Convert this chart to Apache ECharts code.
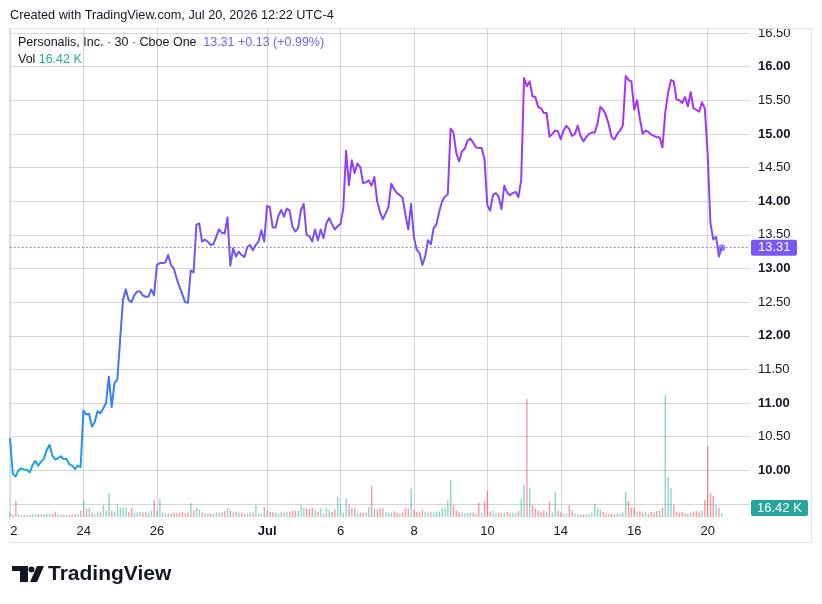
<!DOCTYPE html>
<html>
<head>
<meta charset="utf-8">
<title>Personalis, Inc. · 30 · Cboe One</title>
<script src="https://cdn.jsdelivr.net/npm/echarts@6/dist/echarts.min.js"></script>
<style>
  html, body { margin: 0; padding: 0; background: #fff; }
  #chart { width: 822px; height: 604px; }
</style>
</head>
<body>
<div id="chart"></div>
<script>
// sessions on the chart, 30 minute bars
const days = ['Jun 22', 'Jun 23', 'Jun 24', 'Jun 25', 'Jun 26', 'Jun 29', 'Jun 30', 'Jul 1', 'Jul 2',
  'Jul 6', 'Jul 7', 'Jul 8', 'Jul 9', 'Jul 10', 'Jul 13', 'Jul 14', 'Jul 15', 'Jul 16', 'Jul 17', 'Jul 20'];
const barTimes = ['09:30', '10:00', '10:30', '11:00', '11:30', '12:00', '12:30', '13:00', '13:30',
  '14:00', '14:30', '15:00', '15:30'];

// time scale labels
const tickDays = ['Jun 22', 'Jun 24', 'Jun 26', 'Jul 1', 'Jul 6', 'Jul 8', 'Jul 10', 'Jul 14', 'Jul 16', 'Jul 20'];
const tickText = ['22', '24', '26', 'Jul', '6', '8', '10', '14', '16', '20'];

// close of each bar, one line per session
const closes = [
  10.48, 9.95, 9.91, 10.00, 10.03, 10.01, 10.01, 9.97, 10.08, 10.14, 10.07, 10.13, 10.17,
  10.30, 10.38, 10.22, 10.16, 10.18, 10.21, 10.17, 10.17, 10.09, 10.07, 10.02, 10.07, 10.05,
  10.89, 10.83, 10.84, 10.65, 10.72, 10.88, 10.85, 10.92, 11.00, 11.39, 10.94, 11.30, 11.35,
  11.95, 12.53, 12.69, 12.53, 12.50, 12.60, 12.66, 12.66, 12.60, 12.58, 12.58, 12.69, 12.60,
  13.05, 13.08, 13.08, 13.09, 13.20, 13.05, 13.00, 12.85, 12.73, 12.62, 12.50, 12.49, 12.97,
  12.94, 13.65, 13.67, 13.40, 13.43, 13.40, 13.35, 13.36, 13.47, 13.58, 13.53, 13.52, 13.76,
  13.04, 13.30, 13.18, 13.25, 13.20, 13.17, 13.32, 13.35, 13.27, 13.35, 13.40, 13.57, 13.40,
  13.93, 13.91, 13.61, 13.61, 13.78, 13.87, 13.77, 13.89, 13.86, 13.62, 13.55, 13.60, 13.87,
  13.96, 13.50, 13.48, 13.40, 13.58, 13.42, 13.58, 13.45, 13.67, 13.75, 13.66, 13.58, 13.63,
  13.66, 13.89, 14.75, 14.24, 14.61, 14.42, 14.56, 14.51, 14.27, 14.28, 14.31, 14.23, 14.36,
  14.00, 13.84, 13.73, 13.82, 13.92, 14.26, 14.18, 14.12, 14.09, 14.05, 13.80, 13.58, 13.96,
  13.47, 13.28, 13.23, 13.05, 13.18, 13.42, 13.36, 13.60, 13.66, 13.85, 14.00, 14.07, 14.10,
  15.08, 15.02, 14.72, 14.59, 14.74, 14.78, 14.90, 14.93, 14.87, 14.80, 14.79, 14.79, 14.62,
  13.94, 13.86, 14.09, 14.12, 14.07, 13.88, 14.23, 14.13, 14.09, 14.12, 14.14, 14.06, 14.32,
  15.83, 15.71, 15.78, 15.56, 15.55, 15.40, 15.38, 15.31, 15.31, 14.96, 15.00, 15.05, 15.04,
  14.92, 15.05, 15.12, 15.07, 14.97, 15.00, 15.12, 14.97, 14.89, 14.95, 15.00, 15.02, 15.02,
  15.15, 15.40, 15.36, 15.28, 15.14, 14.95, 14.92, 15.00, 15.05, 15.13, 15.86, 15.80, 15.78,
  15.36, 15.50, 15.23, 15.00, 15.05, 15.03, 14.99, 14.97, 14.95, 14.95, 14.80, 15.32, 15.61,
  15.80, 15.78, 15.51, 15.50, 15.46, 15.55, 15.41, 15.62, 15.38, 15.36, 15.33, 15.47, 15.38,
  14.71, 13.67, 13.43, 13.47, 13.18, 13.31
];

// volume of each bar, thousands
const volumes = [
  15, 10, 66, 11, 8, 8, 8, 9, 12, 10, 12, 11, 12,
  13, 13, 13, 22, 10, 9, 9, 9, 9, 9, 12, 12, 27,
  66, 36, 38, 18, 11, 22, 22, 49, 27, 98, 25, 22, 49,
  38, 38, 38, 22, 38, 18, 18, 22, 18, 22, 18, 27, 70,
  27, 75, 18, 14, 14, 14, 18, 14, 18, 22, 14, 18, 57,
  27, 38, 31, 18, 14, 14, 14, 14, 18, 18, 18, 25, 38,
  27, 22, 22, 18, 18, 14, 14, 18, 18, 49, 14, 14, 41,
  27, 22, 22, 18, 14, 22, 18, 22, 22, 25, 27, 27, 49,
  38, 36, 31, 38, 31, 22, 36, 14, 36, 27, 22, 31, 82,
  52, 18, 75, 49, 38, 38, 18, 18, 18, 18, 41, 127, 38,
  31, 36, 36, 22, 18, 18, 25, 18, 14, 18, 36, 36, 116,
  31, 22, 18, 31, 22, 18, 22, 18, 22, 22, 36, 38, 70,
  152, 49, 27, 22, 18, 14, 18, 18, 18, 14, 57, 18, 66,
  107, 22, 25, 18, 18, 14, 18, 22, 14, 18, 18, 25, 74,
  131, 484, 119, 49, 36, 27, 22, 27, 22, 62, 18, 103, 27,
  18, 14, 14, 49, 27, 14, 11, 11, 11, 11, 11, 18, 54,
  38, 31, 22, 14, 11, 14, 11, 14, 14, 18, 103, 66, 38,
  36, 22, 25, 18, 22, 14, 22, 18, 25, 27, 38, 500, 164,
  119, 49, 22, 18, 22, 18, 14, 18, 22, 25, 22, 25, 70,
  291, 99, 86, 49, 38, 16.42
];

const SLOTS = 263; // bar slots across the pane, the right part stays empty
const UP = 'rgba(34, 171, 148, 0.5)';
const DOWN = 'rgba(242, 54, 69, 0.5)';
const FONT = '"Liberation Sans", Arial, sans-serif';

// category per bar slot
const cats = [];
days.forEach((d) => barTimes.forEach((t) => cats.push(d + ' ' + t)));
while (cats.length < SLOTS) cats.push('');

const tickAt = {};
tickDays.forEach((d, k) => { tickAt[cats.indexOf(d + ' 09:30')] = tickText[k]; });
const isTick = (i) => tickAt[i] !== undefined;

const last = closes.length - 1;
const lastClose = closes[last];
const change = lastClose - closes[last - 1];
const changePct = change / closes[last - 1] * 100;
const lastVol = volumes[volumes.length - 1];

const chart = echarts.init(document.getElementById('chart'), null, { renderer: 'canvas' });

// line colour follows the price level: blue low, violet high
const lineColor = new echarts.graphic.LinearGradient(0, 33, 0, 504, [
  { offset: 0.07, color: '#b62cf4' },
  { offset: 0.21, color: '#a236f3' },
  { offset: 0.36, color: '#8a45f2' },
  { offset: 0.46, color: '#7454f1' },
  { offset: 0.57, color: '#5368ef' },
  { offset: 0.79, color: '#3186ec' },
  { offset: 0.93, color: '#19a6e6' }
], true);

chart.setOption({
  animation: false,
  backgroundColor: '#ffffff',
  textStyle: { fontFamily: FONT },
  grid: [
    { left: 10, right: 72, top: 28, bottom: 87 },
    { left: 10, right: 72, top: 33, height: 471 }
  ],
  xAxis: [
    {
      type: 'category', gridIndex: 0, data: cats, boundaryGap: false,
      axisLine: { show: false }, axisTick: { show: false },
      axisLabel: {
        interval: (i) => isTick(i),
        margin: 8, color: '#131722', fontSize: 13, fontFamily: FONT,
        formatter: (v, i) => (tickAt[i] === 'Jul' ? '{b|Jul}' : (tickAt[i] || '')),
        rich: { b: { fontWeight: 'bold', fontSize: 13, color: '#131722', fontFamily: FONT } }
      },
      splitLine: { show: true, interval: (i) => isTick(i), lineStyle: { color: '#d6d6d6', width: 1 } }
    },
    { type: 'category', gridIndex: 1, data: cats, boundaryGap: false, show: false }
  ],
  yAxis: [
    { type: 'value', gridIndex: 0, min: 0, max: 2005, show: false },
    {
      type: 'value', gridIndex: 1, position: 'right', min: 9.5, max: 16.5, interval: 0.5,
      axisLine: { show: false }, axisTick: { show: false },
      splitLine: { lineStyle: { color: '#d6d6d6', width: 1 } },
      axisLabel: {
        margin: 8, color: '#131722', fontSize: 13, fontFamily: FONT,
        formatter: (v) => {
          if (v < 10) return '';
          return Number.isInteger(v) ? '{b|' + v.toFixed(2) + '}' : v.toFixed(2);
        },
        rich: { b: { fontWeight: 'bold', fontSize: 13, color: '#131722', fontFamily: FONT } }
      }
    }
  ],
  series: [
    {
      name: 'Vol', type: 'bar', xAxisIndex: 0, yAxisIndex: 0, barWidth: 1.4, silent: true,
      data: volumes.map((v, i) => ({
        value: v,
        itemStyle: { color: i > 0 && closes[i] < closes[i - 1] ? DOWN : UP }
      }))
    },
    {
      name: 'Personalis', type: 'line', xAxisIndex: 1, yAxisIndex: 1, data: closes,
      showSymbol: false, silent: true,
      lineStyle: { width: 2, color: lineColor, join: 'round' },
      markLine: {
        silent: true, symbol: ['none', 'none'], label: { show: false },
        lineStyle: { color: '#7a5cff', width: 1.2, type: [1.5, 2.5], opacity: 1 },
        data: [{ yAxis: lastClose }]
      }
    },
    {
      type: 'scatter', xAxisIndex: 1, yAxisIndex: 1, silent: true,
      symbolSize: 7, itemStyle: { color: '#8661f3' },
      data: [[last, lastClose]]
    }
  ]
});

// price scale tags, placed from the data
const yPrice = chart.convertToPixel({ yAxisIndex: 1 }, lastClose);
let yVol = chart.convertToPixel({ yAxisIndex: 0 }, lastVol);
yVol = Math.min(yVol, 508);

chart.setOption({
  graphic: { elements: [
    { type: 'text', x: 10, y: 15, style: { text: 'Created with TradingView.com, Jul 20, 2026 12:22 UTC-4',
      fill: '#131722', font: '12.7px ' + FONT, verticalAlign: 'middle' } },
    { type: 'rect', shape: { x: 9.5, y: 28.5, width: 802, height: 514 },
      style: { fill: null, stroke: '#e3e3e3', lineWidth: 1 }, z: 1 },
    { type: 'rect', shape: { x: 0, y: 519, width: 9.5, height: 22 }, style: { fill: '#ffffff' }, z: 100 },
    { type: 'text', x: 18, y: 43, z: 50, style: {
      text: '{n|Personalis, Inc. · 30 · Cboe One}  {p|' + lastClose.toFixed(2) + ' +' + change.toFixed(2) +
        ' (+' + changePct.toFixed(2) + '%)}',
      verticalAlign: 'middle',
      rich: {
        n: { fill: '#131722', font: '12.5px ' + FONT },
        p: { fill: '#7b5cf2', font: '12.5px ' + FONT }
      } } },
    { type: 'text', x: 18, y: 60, z: 50, style: {
      text: '{n|Vol} {g|' + lastVol.toFixed(2) + ' K}',
      verticalAlign: 'middle',
      rich: {
        n: { fill: '#131722', font: '12.5px ' + FONT },
        g: { fill: '#22ab94', font: '12.5px ' + FONT }
      } } },
    { type: 'rect', z: 60, shape: { x: 751, y: yPrice - 8, width: 46, height: 16, r: 2 },
      style: { fill: '#7957f4' } },
    { type: 'text', z: 61, x: 758, y: yPrice, style: { text: lastClose.toFixed(2), fill: '#ffffff',
      font: '13px ' + FONT, verticalAlign: 'middle' } },
    { type: 'rect', z: 60, shape: { x: 751, y: yVol - 8, width: 57, height: 16, r: 2 },
      style: { fill: '#26a69a' } },
    { type: 'text', z: 61, x: 757, y: yVol, style: { text: lastVol.toFixed(2) + ' K', fill: '#ffffff',
      font: '13px ' + FONT, verticalAlign: 'middle' } },
    // TradingView mark
    { type: 'rect', shape: { x: 12, y: 566, width: 16, height: 5 }, style: { fill: '#131722' } },
    { type: 'rect', shape: { x: 20, y: 566, width: 8, height: 16 }, style: { fill: '#131722' } },
    { type: 'circle', shape: { cx: 31.5, cy: 569.5, r: 3 }, style: { fill: '#131722' } },
    { type: 'polygon', shape: { points: [[30, 582], [37, 566], [44, 566], [37, 582]] }, style: { fill: '#131722' } },
    { type: 'text', x: 48, y: 574, style: { text: 'TradingView', fill: '#131722',
      font: 'bold 21px ' + FONT, verticalAlign: 'middle' } }
  ] }
});
</script>
</body>
</html>
